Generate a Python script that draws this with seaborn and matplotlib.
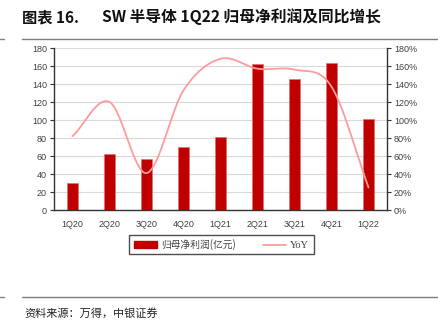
import numpy as np
import pandas as pd
import matplotlib
matplotlib.use("Agg")
import matplotlib.pyplot as plt
from matplotlib.patches import Rectangle
from matplotlib.lines import Line2D
import seaborn as sns

# Quarterly net profit attributable to parent (亿元) and YoY growth (%)
quarters = ["1Q20", "2Q20", "3Q20", "4Q20", "1Q21", "2Q21", "3Q21", "4Q21", "1Q22"]
net_profit = [30, 62, 57, 70, 81, 162, 146, 163, 101]
yoy_pct = [82, 120, 41, 133, 168, 157, 156, 137, 25]
left_ticks = [0, 20, 40, 60, 80, 100, 120, 140, 160, 180]
right_ticks = [0, 20, 40, 60, 80, 100, 120, 140, 160, 180]

sns.set_theme(style="white")
plt.rcParams["font.family"] = ["Liberation Sans", "Noto Sans CJK SC", "DejaVu Sans"]

BAR_RED = "#C00000"
LINE_PINK = "#FF9B9B"
GRID = "#D9D9D9"
CJK = ["Noto Sans CJK SC", "DejaVu Sans"]

W, H = 438, 326
fig = plt.figure(figsize=(W / 100, H / 100), dpi=100)
fig.patch.set_facecolor("white")

# plot area in pixel coordinates
x0, x1, ytop, ybot = 54, 387, 48, 210
ax = fig.add_axes([x0 / W, 1 - ybot / H, (x1 - x0) / W, (ybot - ytop) / H])

df = pd.DataFrame({"quarter": quarters, "profit": net_profit})
sns.barplot(data=df, x="quarter", y="profit", color=BAR_RED, width=0.32,
            saturation=1, edgecolor="#E07070", linewidth=0.5, ax=ax, zorder=2)

ax.set_xlim(-0.5, len(quarters) - 0.5)
ax.set_ylim(0, 180)
ax.set_yticks(left_ticks)
ax.set_yticklabels([str(t) for t in left_ticks])
ax.yaxis.grid(True, color=GRID, linewidth=0.8, zorder=0)
ax.set_axisbelow(True)
ax.set_xlabel("")
ax.set_ylabel("")

for side in ("top", "right"):
    ax.spines[side].set_visible(False)
for side in ("left", "bottom"):
    ax.spines[side].set_color("#333333")
    ax.spines[side].set_linewidth(1.0)

ax.tick_params(axis="y", left=True, length=3, width=0.8, color="#333333",
               labelsize=6.5, labelcolor="#404040", pad=2)
ax.tick_params(axis="x", bottom=False, labelsize=6.5, labelcolor="#404040", pad=1)

# smoothed YoY curve (Catmull-Rom through the quarterly points)
def catmull_rom(xp, yp, n=40):
    xp = np.asarray(xp, float)
    yp = np.asarray(yp, float)
    px = np.concatenate([[2 * xp[0] - xp[1]], xp, [2 * xp[-1] - xp[-2]]])
    py = np.concatenate([[2 * yp[0] - yp[1]], yp, [2 * yp[-1] - yp[-2]]])
    out_x, out_y = [], []
    t = np.linspace(0, 1, n, endpoint=False)
    for i in range(1, len(px) - 2):
        for arr, out in ((px, out_x), (py, out_y)):
            p0, p1, p2, p3 = arr[i - 1], arr[i], arr[i + 1], arr[i + 2]
            seg = 0.5 * ((2 * p1) + (-p0 + p2) * t
                         + (2 * p0 - 5 * p1 + 4 * p2 - p3) * t ** 2
                         + (-p0 + 3 * p1 - 3 * p2 + p3) * t ** 3)
            out.extend(seg)
    out_x.append(xp[-1])
    out_y.append(yp[-1])
    return np.array(out_x), np.array(out_y)

ax2 = ax.twinx()
cx, cy = catmull_rom(np.arange(len(quarters)), yoy_pct)
sns.lineplot(x=cx, y=cy, ax=ax2, color=LINE_PINK, linewidth=1.3, sort=False,
             estimator=None)
ax2.set_ylim(0, 180)
ax2.set_yticks(right_ticks)
ax2.set_yticklabels([f"{t}%" for t in right_ticks])
ax2.set_ylabel("")
ax2.grid(False)
for side in ("top", "left", "bottom"):
    ax2.spines[side].set_visible(False)
ax2.spines["right"].set_color("#333333")
ax2.spines["right"].set_linewidth(1.0)
ax2.tick_params(axis="y", right=True, length=3, width=0.8, color="#333333",
                labelsize=6.5, labelcolor="#404040", pad=2)

# legend
handles = [Rectangle((0, 0), 1, 1, facecolor=BAR_RED, edgecolor=BAR_RED),
           Line2D([0], [0], color=LINE_PINK, linewidth=1.3)]
leg = fig.legend(handles, ["归母净利润(亿元)", "YoY"], loc="center",
                 bbox_to_anchor=(221.5 / W, 1 - 244.5 / H), ncol=2,
                 frameon=True, fancybox=False, edgecolor="#222222",
                 handlelength=2.4, handleheight=0.6, columnspacing=2.8,
                 borderpad=0.45, handletextpad=0.4, borderaxespad=0,
                 prop={"family": CJK, "size": 7})
leg.get_frame().set_linewidth(1.0)
leg.get_texts()[1].set_fontfamily(["Liberation Serif"])
leg.get_texts()[1].set_fontsize(7.5)
for t in leg.get_texts():
    t.set_color("#404040")

# title and rules
fig.text(22 / W, 1 - 17 / H, "图表 16.", ha="left", va="center", fontsize=11,
         fontweight="bold", family=CJK, color="#111111")
fig.text(102 / W, 1 - 17 / H, "SW 半导体 1Q22 归母净利润及同比增长",
         ha="left", va="center", fontsize=11.3, fontweight="bold",
         family=CJK, color="#111111")
fig.add_artist(Line2D([22 / W, 1], [1 - 39 / H] * 2, color="#7F7F7F", linewidth=1.0))
fig.add_artist(Line2D([0, 4 / W], [1 - 39 / H] * 2, color="#7F7F7F", linewidth=1.0))
fig.add_artist(Line2D([22 / W, 1], [1 - 297 / H] * 2, color="#7F7F7F", linewidth=1.0))
fig.add_artist(Line2D([0, 4 / W], [1 - 297 / H] * 2, color="#7F7F7F", linewidth=1.0))

fig.text(24 / W, 1 - 313 / H, "资料来源：万得，中银证券", ha="left", va="center",
         fontsize=8, style="italic", family=CJK, color="#222222")

fig.savefig("out.png", dpi=100, facecolor="white")
